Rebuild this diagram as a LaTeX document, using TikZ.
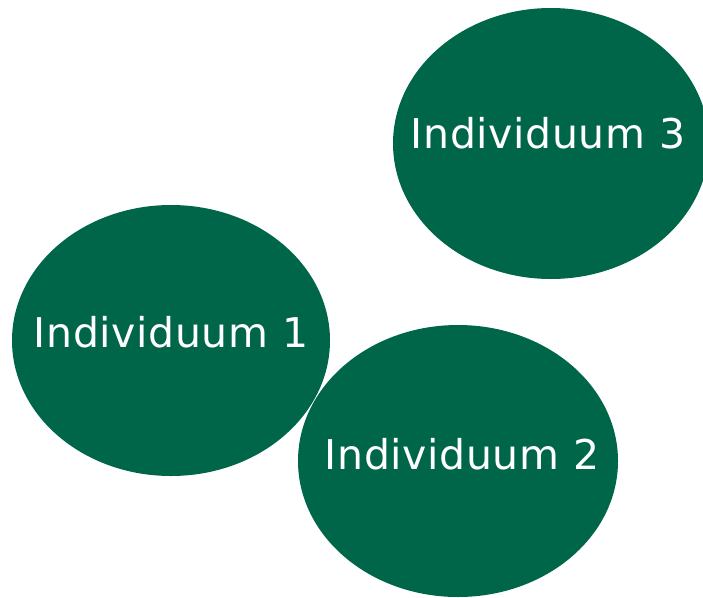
\documentclass[tikz,border=0pt]{standalone}
\usepackage{fontspec}
\setmainfont{DejaVu Sans}[LetterSpace=1.5]
\usetikzlibrary{shapes.geometric}
\definecolor{dgreen}{RGB}{0,102,74}
\tikzset{
  blob/.style={ellipse, fill=dgreen, draw=none, inner sep=0pt},
  lbl/.style={anchor=base, text=white, font=\fontsize{41}{48}\selectfont, inner sep=0pt}
}
\begin{document}
\begin{tikzpicture}[x=1pt,y=-1pt]
\useasboundingbox (0,0) rectangle (703,597);
\clip (0,0) rectangle (703,597);
\node[blob, minimum width=318pt, minimum height=271pt] (e1) at (171,340.5) {};
\node[blob, minimum width=320pt, minimum height=272pt] (e2) at (458,461) {};
\node[blob, minimum width=316pt, minimum height=271pt] (e3) at (551,143.5) {};
\node[lbl] (t1) at (171,347) {Individuum 1};
\node[lbl] (t2) at (462,469) {Individuum 2};
\node[lbl] (t3) at (548,148) {Individuum 3};
\end{tikzpicture}
\end{document}
